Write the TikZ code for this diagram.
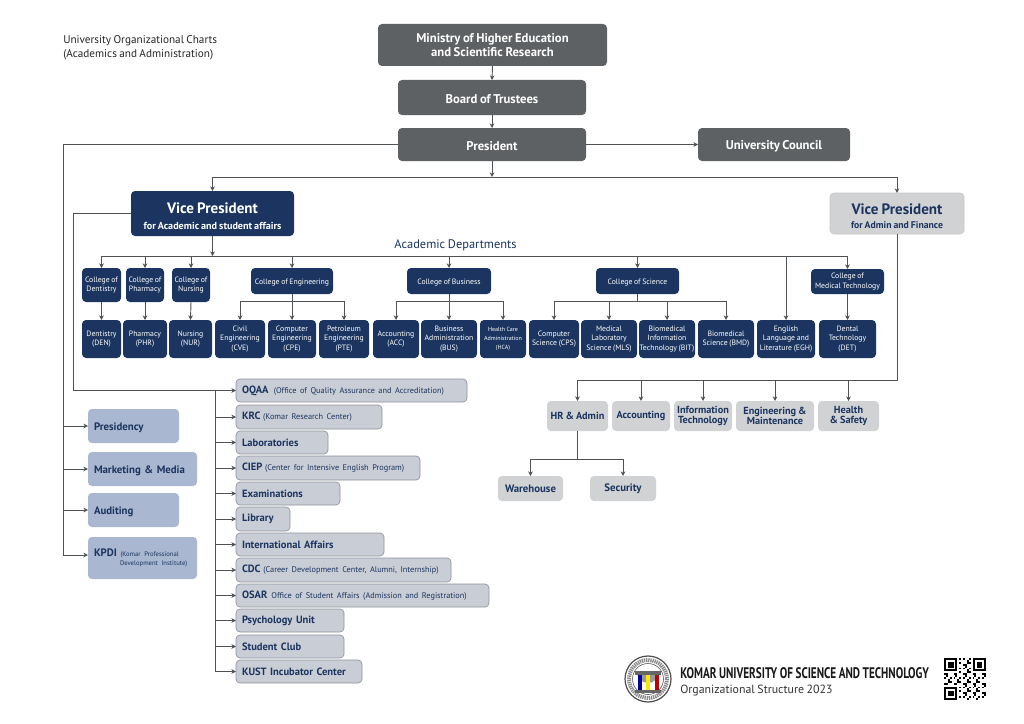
\documentclass[tikz,border=0pt]{standalone}
\usepackage{fontspec}
\setmainfont[WordSpace=0.8]{PT Sans}
\newfontfamily\condfont[FakeStretch=0.73,WordSpace=0.9]{PT Sans}
\usetikzlibrary{arrows.meta,calc}
\definecolor{dgray}{HTML}{5E6163}
\definecolor{navy}{HTML}{1B3560}
\definecolor{lgray}{HTML}{D1D2D4}
\definecolor{lblue}{HTML}{A9B7D0}
\definecolor{rgray}{HTML}{C9CDD5}
\definecolor{rline}{HTML}{8E939E}
\definecolor{wire}{HTML}{505356}
\newcommand{\fs}[2]{\fontsize{#1}{#2}\selectfont}
\newcommand{\dn}[1]{\rule{0pt}{#1pt}}
\newcommand{\bx}[7][]{%
  \pgfmathsetmacro{\bxw}{(#5-#3)*0.75}\pgfmathsetmacro{\bxh}{(#6-#4)*0.75}%
  \node[boxbase,#1,minimum width=\bxw pt,minimum height=\bxh pt] (#2) at ({(#3+#5)/2},{(#4+#6)/2}) {#7};}
\newcommand{\lbx}[7][]{%
  \pgfmathsetmacro{\bxw}{(#5-#3)*0.75}\pgfmathsetmacro{\bxh}{(#6-#4)*0.75}\pgfmathsetmacro{\bxt}{\bxw-9}%
  \node[boxbase,#1,minimum width=\bxw pt,minimum height=\bxh pt,align=left,text width=\bxt pt,inner xsep=4.5pt,anchor=center] (#2) at ({(#3+#5)/2},{(#4+#6)/2}) {#7};}
\tikzset{
  boxbase/.style={rounded corners=3pt,inner sep=0pt,outer sep=0pt,align=center},
  top/.style={fill=dgray,text=white,font=\bfseries\fs{9.5}{11}},
  coll/.style={fill=navy,text=white,font=\fs{5.8}{7}},
  dept/.style={fill=navy,text=white,font=\fs{5.8}{7}},
  adm/.style={fill=lgray,text=navy,font=\bfseries\fs{7.7}{7.2}},
  lft/.style={fill=lblue,text=navy,font=\bfseries\fs{8.1}{7.5}},
  rgt/.style={fill=rgray,draw=rline,line width=.5pt,text=navy,font=\bfseries\fs{7.9}{8}},
  conn/.style={draw=wire,line width=.7pt},
  arr/.style={conn,-{Stealth[length=3.5pt,width=3.5pt]}}
}
\newcommand{\smalltxt}[1]{{\mdseries\fs{6.2}{7}#1}}
\begin{document}
\begin{tikzpicture}[x=0.75pt,y=-0.75pt]
\useasboundingbox (0,0) rectangle (1024,724);
\fill[white] (0,0) rectangle (1024,724);
% title
\node[anchor=north west,inner sep=0pt,align=left,text=black!85,font=\fs{8.4}{10.6}] (title) at (63,35.5) {University Organizational Charts\\(Academics and Administration)};
% top boxes
\bx[top]{min}{378}{24}{607}{66}{Ministry of Higher Education\\and Scientific Research}
\bx[top]{board}{398}{80}{586}{115}{\dn{9}Board of Trustees}
\bx[top]{pres}{398}{128}{586}{161}{\dn{9}President}
\bx[top]{council}{698}{128}{850}{161}{\dn{9}University Council}
\bx[fill=navy,text=white,font=\bfseries\fs{11.3}{12}]{vpa}{131}{191}{294}{236}{\dn{12}Vice President\\{\fs{7.6}{9}for Academic and student affairs}}
\bx[fill=lgray,draw=black!22,line width=.5pt,text=navy,font=\bfseries\fs{11.3}{11}]{vpb}{830}{193}{964}{234}{\dn{12}Vice President\\{\fs{7.3}{7.5}for Admin and Finance}}
\node[inner sep=0pt,text=navy,font=\fs{9.3}{10}] (acad) at (455.5,245) {Academic Departments};
% colleges
\bx[coll]{cden}{82}{268}{121}{302}{College of\\Dentistry}
\bx[coll]{cphr}{126}{268}{164}{302}{College of\\Pharmacy}
\bx[coll]{cnur}{172}{268}{210}{302}{College of\\Nursing}
\bx[coll]{ceng}{251}{268}{333}{294}{\dn{6}College of Engineering}
\bx[coll]{cbus}{407}{268}{491}{294}{\dn{6}College of Business}
\bx[coll]{csci}{596}{268}{679}{294}{\dn{6}College of Science}
\bx[coll]{cmed}{811}{269}{884}{294}{College of\\Medical Technology}
% departments
\bx[dept]{den}{82}{320}{121}{358}{Dentistry\\(DEN)}
\bx[dept]{phr}{123}{320}{167}{358}{Pharmacy\\(PHR)}
\bx[dept]{nur}{169}{320}{212}{358}{Nursing\\(NUR)}
\bx[dept]{cve}{215}{320}{265}{358}{Civil\\Engineering\\(CVE)}
\bx[dept]{cpe}{268}{320}{316}{358}{Computer\\Engineering\\(CPE)}
\bx[dept]{pte}{319}{320}{369}{358}{Petroleum\\Engineering\\(PTE)}
\bx[dept]{acc}{373}{320}{419}{358}{Accounting\\(ACC)}
\bx[dept]{bus}{421}{320}{477}{358}{Business\\Administration\\(BUS)}
\bx[dept,font=\fs{4.5}{7}]{hca}{480}{320}{526}{358}{Health Care\\Administration\\(HCA)}
\bx[dept]{cps}{529}{320}{579}{358}{Computer\\Science (CPS)}
\bx[dept]{mls}{581}{320}{637}{358}{Medical\\Laboratory\\Science (MLS)}
\bx[dept]{bit}{639}{320}{695}{358}{Biomedical\\Information\\Technology (BIT)}
\bx[dept]{bmd}{698}{320}{754}{358}{Biomedical\\Science (BMD)}
\bx[dept]{egh}{757}{320}{815}{358}{English\\Language and\\Literature (EGH)}
\bx[dept]{det}{819}{320}{876}{358}{Dental\\Technology\\(DET)}
% admin
\bx[adm]{hr}{547}{401}{608}{431}{HR \& Admin}
\bx[adm]{acct}{612}{401}{670}{431}{Accounting}
\bx[adm]{it}{674}{401}{732}{431}{Information\\Technology}
\bx[adm]{engm}{736}{401}{814}{431}{Engineering \&\\Maintenance}
\bx[adm]{hs}{818}{401}{879}{431}{Health\\\& Safety}
\bx[adm,font=\bfseries\fs{8.1}{8}]{ware}{498}{476}{563}{501}{Warehouse}
\bx[adm,font=\bfseries\fs{8.1}{8}]{sec}{590}{476}{656}{501}{Security}
% left boxes
\lbx[lft]{presy}{88}{409}{179}{443}{\dn{8}Presidency}
\lbx[lft]{mkt}{88}{452}{197}{486}{\dn{8}Marketing \& Media}
\lbx[lft]{aud}{88}{493}{179}{527}{\dn{8}Auditing}
\lbx[lft]{kpdi}{88}{537}{197}{579}{KPDI {\mdseries\fs{5}{7}(Komar Professional}\\[-.5pt]\hspace*{19.5pt}{\mdseries\fs{5}{7}Development Institute)}}
% right boxes
\lbx[rgt]{oqaa}{236}{379}{467}{402}{OQAA\hspace{4pt}\smalltxt{(Office of Quality Assurance and Accreditation)}}
\lbx[rgt]{krc}{236}{405}{382}{429}{KRC\hspace{2pt}\smalltxt{(Komar Research Center)}}
\lbx[rgt]{lab}{236}{431}{328}{454}{Laboratories}
\lbx[rgt]{ciep}{236}{456}{420}{480}{CIEP\hspace{2pt}\smalltxt{(Center for Intensive English Program)}}
\lbx[rgt]{exam}{236}{482}{340}{505}{Examinations}
\lbx[rgt]{lib}{236}{507}{290}{531}{Library}
\lbx[rgt]{intl}{236}{533}{384}{556}{International Affairs}
\lbx[rgt]{cdc}{236}{558}{451}{582}{CDC\hspace{2pt}\smalltxt{(Career Development Center, Alumni, Internship)}}
\lbx[rgt]{osar}{236}{584}{489}{607}{OSAR\hspace{3pt}\smalltxt{Office of Student Affairs (Admission and Registration)}}
\lbx[rgt]{psy}{236}{609}{344}{632}{Psychology Unit}
\lbx[rgt]{club}{236}{635}{344}{658}{Student Club}
\lbx[rgt]{kust}{236}{660}{362}{683}{KUST Incubator Center}
% named junctions
\coordinate (b1) at ($(pres.south)+(0,16)$);
\coordinate (b2) at ($(vpa.south)+(0,20)$);
\coordinate (leng) at ($(ceng.south)+(0,7)$);
\coordinate (lbus) at ($(cbus.south)+(0,7)$);
\coordinate (lsci) at ($(csci.south)+(0,7)$);
\coordinate (adm) at ($(vpb.south)+(0,146)$);
\coordinate (hrj) at ($(hr.south)+(0,28)$);
\coordinate (lt) at ($(pres.west)+(-335,0)$);
\coordinate (ltend) at (63,555);
\coordinate (kin) at (88,555);
\coordinate (vl) at (73,213.5);
\coordinate (vlb) at (73,390.5);
\coordinate (rj) at (215,390.5);
% connectors top
\draw[arr] (min.south) -- (board.north);
\draw[arr] (board.south) -- (pres.north);
\draw[arr] (pres.east) -- (council.west);
\draw[arr] (pres.south) -- (b1);
\draw[arr] (b1) -| (vpa.north);
\draw[arr] (b1) -| (vpb.north);
% dept bus
\draw[arr] (vpa.south) -- (b2);
\draw[conn] (cden.north |- b2) -- (cmed.north |- b2);
\foreach \c in {cden,cphr,cnur,ceng,cbus,csci,cmed}{\draw[arr] (\c.north |- b2) -- (\c.north);}
\draw[arr] (egh.north |- b2) -- (egh.north);
\draw[arr] (cden.south) -- (den.north);
\draw[arr] (cphr.south) -- (phr.north);
\draw[arr] (cnur.south) -- (nur.north);
\draw[arr] (cmed.south) -- (det.north);
% engineering
\draw[conn] (ceng.south) -- (leng);
\draw[arr] (leng) -| (cve.north);
\draw[arr] (leng) -- (cpe.north);
\draw[arr] (leng) -| (pte.north);
% business
\draw[conn] (cbus.south) -- (lbus);
\draw[arr] (lbus) -| (acc.north);
\draw[arr] (lbus) -- (bus.north);
\draw[arr] (lbus) -| (hca.north);
% science
\draw[conn] (csci.south) -- (lsci);
\foreach \c in {cps,mls,bit,bmd}{\draw[arr] (lsci) -| (\c.north);}
% admin
\draw[conn] (vpb.south) -- (adm) -- (hr.north |- adm);
\foreach \c in {hr,acct,it,engm,hs}{\draw[arr] (\c.north |- adm) -- (\c.north);}
\draw[conn] (hr.south) -- (hrj);
\draw[arr] (hrj) -| (ware.north);
\draw[arr] (hrj) -| (sec.north);
% left trunk
\draw[conn] (pres.west) -- (lt) -- (ltend);
\draw[arr] (ltend) -- (kin);
\foreach \c in {presy,mkt,aud}{\draw[arr] (lt |- \c.west) -- (\c.west);}
% right trunk
\draw[conn] (vpa.west |- vl) -- (vl) -- (vlb) -- (rj);
\draw[arr] (rj) -- (oqaa.west);
\draw[conn] (rj) -- (rj |- kust.west);
\foreach \c in {krc,lab,ciep,exam,lib,intl,cdc,osar,psy,club,kust}{\draw[arr] (rj |- \c.west) -- (\c.west);}
% footer text
\node[anchor=west,inner sep=0pt,font=\condfont\bfseries\fs{11.5}{12},text=black!90] (komar) at (680,673) {KOMAR UNIVERSITY OF SCIENCE AND TECHNOLOGY};
\node[anchor=west,inner sep=0pt,font=\fs{8.9}{10},text=black!80] (org) at (680,691) {Organizational Structure 2023};
% logo
\draw[black!70,line width=.9pt] (648,679) circle (23);
\draw[black!45,line width=3pt,dash pattern=on 1pt off .6pt] (648,679) circle (19);
\draw[black!70,line width=.4pt] (648,679) circle (15.5);
\fill[black!40] (637,672) arc (180:0:11) -- cycle;
\fill[black!60] (635,671) rectangle (661,675);
\fill[blue!60!black] (637.5,675) rectangle (641.5,690);
\fill[yellow!90!orange] (646,675) rectangle (650,690);
\fill[red!75!black] (654.5,675) rectangle (658.5,690);
\fill[black!60] (635,690) rectangle (661,692.5);
% QR code
\foreach \cx/\cy in {944/658,972.7/658,944/686.7}{
  \fill[black] (\cx,\cy) rectangle ++(13.3,13.3);
  \fill[white] (\cx+1.9,\cy+1.9) rectangle ++(9.5,9.5);
  \fill[black] (\cx+3.8,\cy+3.8) rectangle ++(5.7,5.7);
}
\foreach \i in {0,...,21}{\foreach \j in {0,...,21}{
  \pgfmathtruncatemacro{\on}{mod(\i*\i*3+\j*\j*5+\i*\j*7+\i+2*\j,5)<2 ? 1:0}
  \pgfmathtruncatemacro{\skipit}{((\i<8&&\j<8)||(\i>13&&\j<8)||(\i<8&&\j>13)) ? 1:0}
  \ifnum\on=1 \ifnum\skipit=0
    \fill[black] ({944+\i*1.9},{658+\j*1.9}) rectangle ++(1.9,1.9);
  \fi\fi
}}
\end{tikzpicture}
\end{document}
